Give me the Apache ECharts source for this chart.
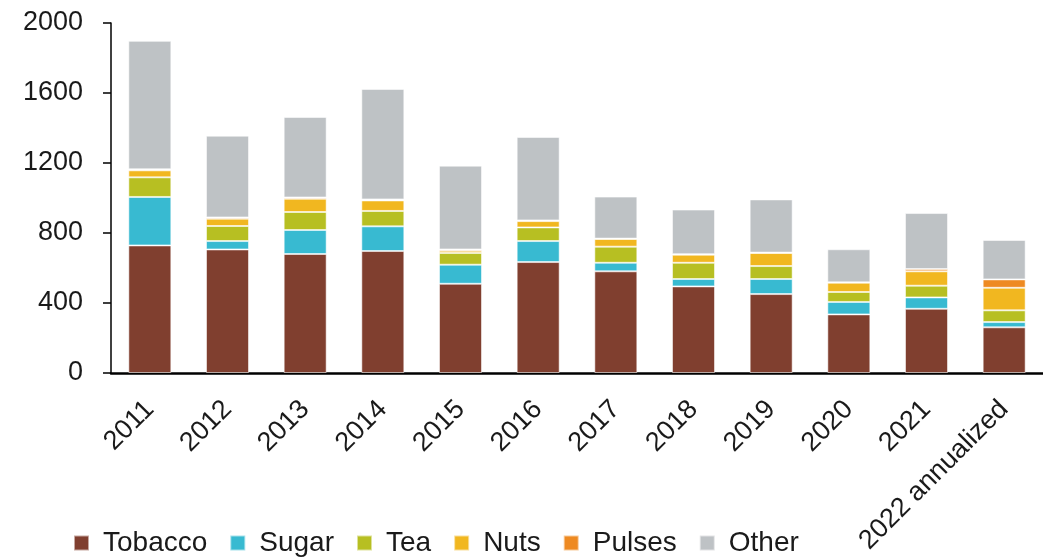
<!DOCTYPE html>
<html>
<head>
<meta charset="utf-8">
<script src="https://cdn.jsdelivr.net/npm/echarts@6/dist/echarts.min.js"></script>
<style>
  html, body { margin: 0; padding: 0; background: #fff; }
  #chart { width: 1043px; height: 560px; }
</style>
</head>
<body>
<div id="chart"></div>
<script>
const years = ['2011', '2012', '2013', '2014', '2015', '2016', '2017', '2018', '2019', '2020', '2021', '2022 annualized']

// values, stacked bottom to top
const tobacco = [729, 706, 680, 697, 510, 634, 581, 495, 451, 335, 367, 261]
const sugar   = [277, 48, 137, 141, 109, 120, 49, 42, 86, 71, 65, 30]
const tea     = [112, 86, 103, 88, 67, 78, 92, 93, 74, 57, 67, 67]
const nuts    = [40, 42, 76, 60, 13, 36, 44, 46, 75, 53, 82, 129]
const pulses  = [6, 7, 7, 6, 7, 4, 2, 3, 2, 2, 13, 48]
const other   = [734, 467, 460, 631, 479, 477, 240, 255, 304, 189, 320, 225]

const yTicks = [0, 400, 800, 1200, 1600, 2000]

const font = '"Liberation Sans", Arial, sans-serif'
const ink = '#1a1a1a'

function bar(name, data, color) {
    return {
        name: name,
        type: 'bar',
        stack: 'total',
        barWidth: 43,
        data: data,
        itemStyle: {
            color: color,
            borderColor: 'rgba(255,255,255,0.55)',
            borderWidth: 1
        }
    }
}

let myChart = echarts.init(document.getElementById('chart'))

let option = {
    animation: false,
    textStyle: { fontFamily: font },
    grid: { left: 111, top: 23, width: 942, height: 350 },
    legend: {
        left: 73,
        top: 529,
        padding: 0,
        icon: 'rect',
        itemWidth: 15,
        itemHeight: 15,
        itemGap: 22,
        textStyle: { fontSize: 28, color: ink, fontFamily: font, padding: [0, 0, 0, 9] },
        data: ['Tobacco', 'Sugar', 'Tea', 'Nuts', 'Pulses', 'Other']
    },
    xAxis: {
        type: 'category',
        data: years,
        axisLine: { lineStyle: { color: '#000', width: 2.5 } },
        axisTick: { show: false },
        axisLabel: {
            rotate: 45,
            interval: 0,
            margin: 32,
            padding: [22, 0, 0, 0],
            fontSize: 27,
            color: ink,
            fontFamily: font
        }
    },
    yAxis: {
        type: 'value',
        min: yTicks[0],
        max: yTicks[yTicks.length - 1],
        interval: 400,
        splitLine: { show: false },
        axisLine: { show: true, lineStyle: { color: '#000', width: 1.5 } },
        axisTick: { show: true, length: 8, lineStyle: { color: '#000', width: 1.5 } },
        axisLabel: {
            margin: 28,
            fontSize: 27,
            color: ink,
            fontFamily: font,
            formatter: v => String(v)
        }
    },
    series: [
        bar('Tobacco', tobacco, '#803F2F'),
        bar('Sugar', sugar, '#38BAD1'),
        bar('Tea', tea, '#B7BF22'),
        bar('Nuts', nuts, '#F1B720'),
        bar('Pulses', pulses, '#EE8A22'),
        bar('Other', other, '#BEC2C5')
    ]
}

myChart.setOption(option)
</script>
</body>
</html>
